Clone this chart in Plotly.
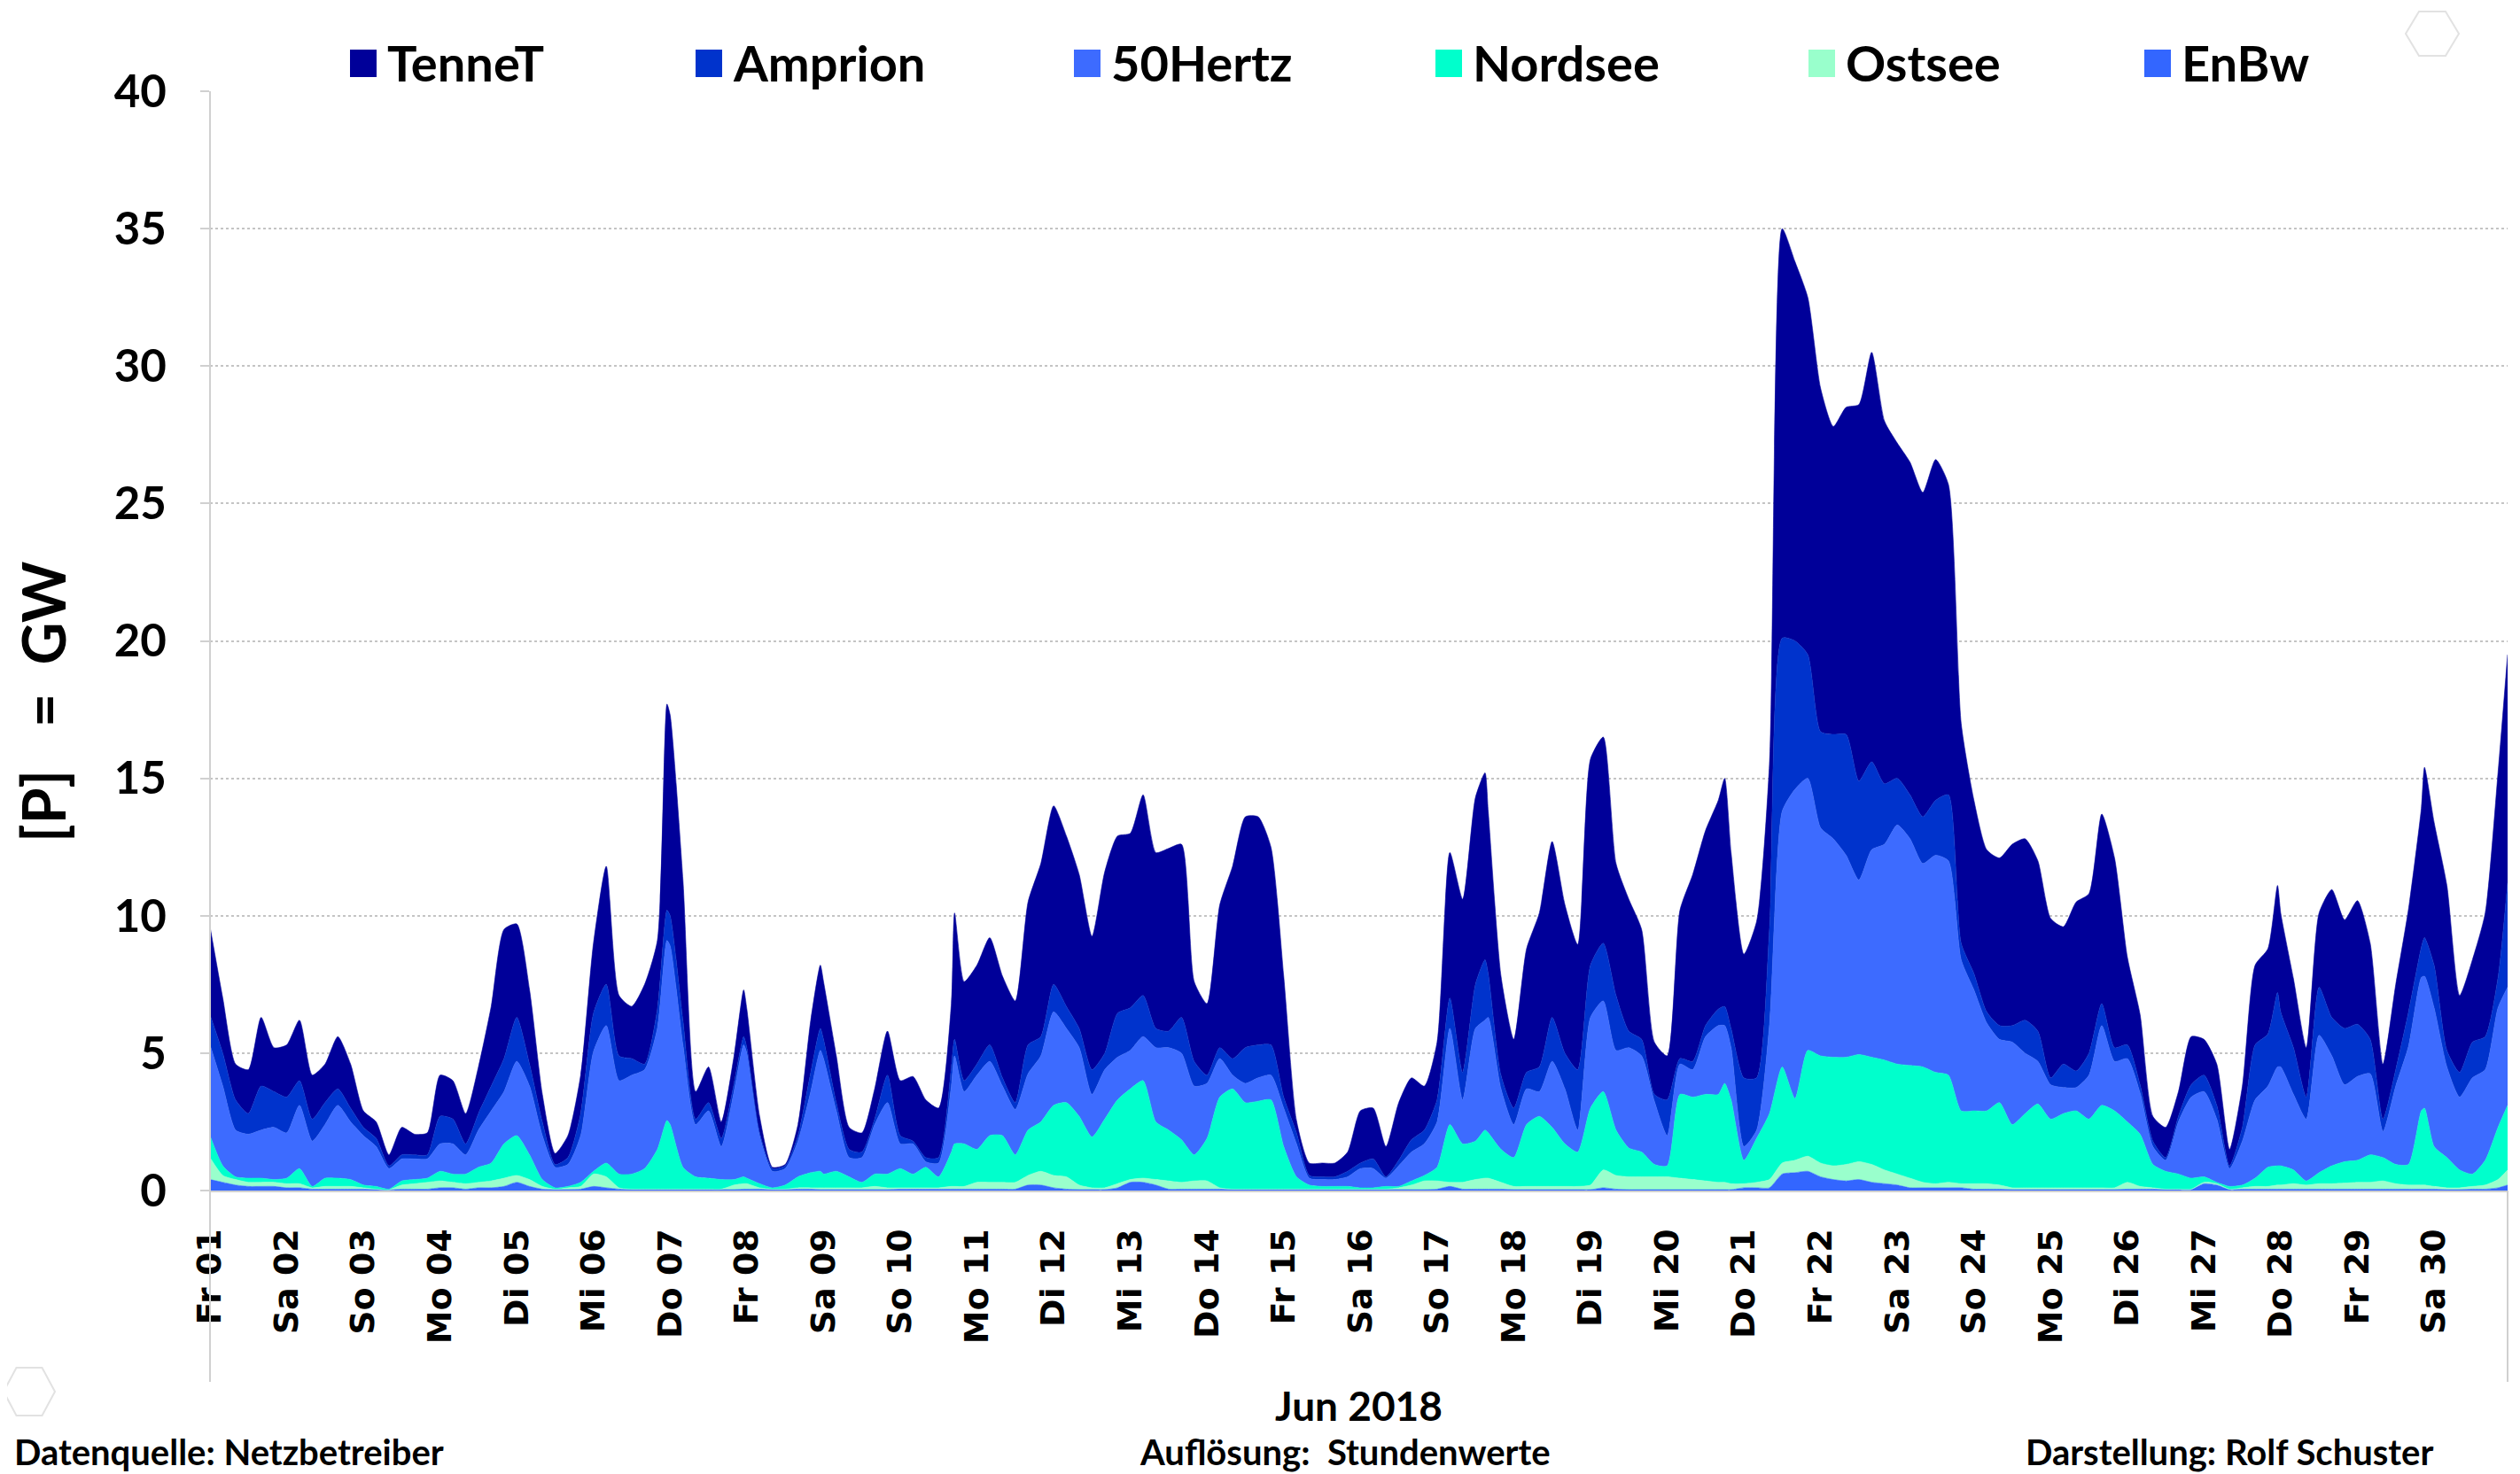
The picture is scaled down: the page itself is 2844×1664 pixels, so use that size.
import plotly.graph_objects as go
from datetime import datetime, timedelta

# ---------------- data (GW, June 2018) ----------------
START = datetime(2018, 6, 1)
# regular 4-hourly readings (hour offsets from 1 June 00:00) ...
HOURS = list(range(0, 720, 4)) + [719]
# ... plus readings taken at a few sharp peaks between the regular readings
EXTRA_HOURS = [143, 167, 191, 233, 399, 474, 647, 693]

TENNET = [
    3.2, 2.0, 1.3, 1.6, 2.5, 1.6,
    1.9, 2.2, 1.6, 1.4, 1.9, 1.6,
    0.6, 0.6, 0.4, 1.0, 0.75, 0.8,
    1.5, 1.4, 1.1, 1.7, 2.9, 4.7,
    3.4, 2.7, 1.0, 0.4, 0.8, 1.4,
    2.55, 4.3, 2.2, 1.9, 2.9, 2.5,
    7.3, 5.1, 1.0, 1.3, 0.6, 1.0,
    1.4, 0.6, 0.05, 0.05, 0.4, 1.9,
    2.1, 1.7, 0.8, 0.7, 1.1, 1.6,
    2.0, 2.35, 2.1, 1.8, 2.3, 3.6,
    3.6, 3.9, 3.7, 3.7, 5.2, 6.3,
    6.5, 6.2, 5.6, 4.85, 6.6, 6.45,
    6.35, 7.3, 6.4, 6.65, 6.3, 2.9,
    2.6, 5.2, 7.0, 8.4, 8.3, 7.2,
    4.4, 0.45, 0.45, 0.5, 0.5, 0.7,
    1.9, 1.85, 1.1, 2.1, 2.25, 1.6,
    2.1, 5.3, 6.3, 6.8, 5.9, 3.6,
    2.5, 4.5, 5.6, 6.4, 5.4, 4.55,
    7.5, 7.5, 4.8, 4.8, 4.0, 1.9,
    1.6, 5.4, 6.8, 7.1, 7.6, 6.4,
    4.5, 5.7, 6.0, 14.9, 13.8, 13.0,
    12.5, 11.2, 11.9, 13.7, 14.9, 13.2,
    12.2, 12.1, 11.8, 12.4, 11.3, 8.0,
    6.3, 5.9, 6.1, 6.6, 6.6, 6.2,
    5.8, 5.0, 6.15, 5.8, 6.9, 6.9,
    3.2, 2.55, 0.9, 1.1, 0.9, 1.75,
    1.3, 1.5, 0.6, 1.5, 2.9, 3.1,
    3.6, 2.5, 1.8, 2.7, 4.65, 3.95,
    4.5, 3.5, 2.0, 3.1, 3.75, 5.05,
    5.2, 6.0, 2.8, 3.0, 4.5, 7.45, 8.3,
]
TENNET_EXTRA = [7.5, 1.7, 2.3, 4.6, 6.8, 8.3, 3.9, 6.2]

AMPRION = [
    1.1, 1.2, 1.1, 0.75, 1.6, 1.3,
    1.3, 0.9, 0.8, 0.8, 0.6, 0.5,
    0.3, 0.3, 0.1, 0.15, 0.15, 0.15,
    1.0, 0.9, 0.4, 0.6, 0.9, 1.2,
    1.6, 0.8, 0.5, 0.1, 0.25, 0.8,
    1.4, 1.5, 0.9, 0.6, 0.2, 0.7,
    1.1, 0.9, 0.2, 0.3, 0.3, 0.3,
    0.2, 0.1, 0.1, 0.1, 0.2, 0.7,
    0.7, 0.3, 0.3, 0.2, 0.2, 1.0,
    0.3, 0.1, 0.15, 0.2, 0.7, 0.4,
    0.4, 0.6, 0.3, 0.25, 1.05, 0.7,
    1.0, 0.8, 0.7, 0.9, 0.6, 1.6,
    1.55, 1.5, 0.7, 0.6, 1.3, 0.9,
    0.3, 0.4, 0.6, 1.3, 1.2, 1.1,
    0.4, 0.4, 0.1, 0.1, 0.1, 0.2,
    0.2, 0.35, 0.05, 0.2, 0.45, 0.5,
    0.8, 1.1, 1.0, 1.6, 1.6, 0.5,
    0.6, 0.6, 0.9, 1.6, 1.3, 2.2,
    1.9, 2.1, 2.0, 0.6, 0.6, 0.25,
    1.3, 0.2, 0.3, 0.4, 0.6, 0.7,
    2.5, 1.9, 3.5, 6.3, 5.4, 4.5,
    3.5, 3.8, 4.4, 3.6, 3.2, 2.2,
    1.7, 1.6, 1.7, 2.0, 2.4, 0.6,
    0.6, 0.4, 0.5, 0.6, 1.2, 1.1,
    0.25, 0.85, 0.6, 0.8, 0.8, 0.5,
    0.5, 0.3, 0.2, 0.1, 0.2, 0.45,
    0.6, 0.5, 0.1, 0.5, 2.0, 1.9,
    2.0, 1.7, 0.8, 1.75, 1.4, 2.05,
    1.9, 1.25, 0.45, 0.6, 1.25, 1.1,
    1.55, 0.6, 0.9, 1.3, 1.2, 1.1, 3.8,
]
AMPRION_EXTRA = [1.1, 0.3, 0.8, 0.6, 2.2, 0.7, 2.7, 1.4]

HERTZ50 = [
    3.3, 2.9, 1.7, 1.6, 1.75, 1.9,
    1.65, 2.3, 1.65, 1.95, 2.65, 2.1,
    1.8, 1.45, 0.75, 0.8, 0.75, 0.7,
    1.0, 1.1, 0.7, 1.35, 1.9, 1.9,
    2.7, 2.5, 1.6, 0.75, 0.8, 1.7,
    4.35, 5.0, 3.4, 3.6, 3.6, 4.4,
    6.5, 4.45, 1.9, 2.45, 1.2, 3.2,
    4.55, 1.75, 0.6, 0.6, 1.3, 2.95,
    4.2, 2.2, 0.7, 0.9, 1.8, 2.6,
    0.9, 1.1, 0.2, 0.5, 2.4, 1.9,
    2.7, 2.7, 1.8, 1.65, 2.05, 2.4,
    3.4, 2.7, 2.5, 1.55, 1.8, 1.55,
    1.4, 1.6, 2.7, 3.0, 3.15, 2.5,
    2.0, 1.4, 0.5, 0.7, 0.85, 0.9,
    1.4, 1.2, 0.25, 0.25, 0.25, 0.35,
    0.7, 0.7, 0.3, 0.75, 1.05, 1.15,
    1.65, 3.5, 1.6, 4.1, 4.2, 2.2,
    1.2, 1.3, 0.9, 2.4, 2.0, 0.8,
    3.3, 3.3, 2.9, 3.65, 3.5, 2.3,
    1.1, 1.1, 1.0, 2.1, 2.5, 1.9,
    0.5, 0.3, 3.2, 9.3, 11.25, 9.9,
    8.3, 7.95, 7.35, 6.35, 7.55, 7.85,
    8.7, 8.25, 7.4, 7.9, 7.8, 5.5,
    4.4, 3.2, 2.3, 3.0, 2.2, 1.55,
    1.25, 0.95, 0.85, 1.6, 2.9, 1.8,
    2.3, 1.5, 0.65, 0.4, 1.9, 2.95,
    3.1, 2.3, 0.65, 1.6, 2.85, 2.95,
    3.6, 2.75, 2.25, 5.0, 4.0, 2.8,
    3.05, 2.95, 0.95, 2.85, 4.3, 4.85,
    5.05, 3.3, 2.65, 3.5, 3.3, 4.35, 4.3,
]
HERTZ50_EXTRA = [6.55, 4.8, 4.4, 3.2, 4.0, 2.1, 3.6, 4.8]

NORDSEE = [
    0.8, 0.35, 0.1, 0.15, 0.15, 0.1,
    0.2, 0.55, 0.05, 0.3, 0.3, 0.25,
    0.1, 0.1, 0.02, 0.15, 0.15, 0.15,
    0.35, 0.3, 0.35, 0.55, 0.65, 1.25,
    1.45, 0.9, 0.25, 0.05, 0.05, 0.15,
    0.1, 0.5, 0.5, 0.55, 0.75, 1.45,
    2.35, 0.8, 0.45, 0.4, 0.35, 0.2,
    0.2, 0.15, 0.05, 0.15, 0.4, 0.55,
    0.5, 0.6, 0.4, 0.2, 0.45, 0.5,
    0.7, 0.5, 0.75, 0.4, 1.25, 1.55,
    1.2, 1.7, 1.7, 1.0, 1.65, 1.8,
    2.55, 2.7, 2.5, 1.85, 2.5, 3.05,
    3.3, 3.55, 2.1, 1.85, 1.55, 0.95,
    1.55, 3.3, 3.65, 3.15, 3.2, 3.25,
    1.55, 0.45, 0.15, 0.1, 0.1, 0.1,
    0.05, 0.05, 0.1, 0.05, 0.15, 0.2,
    0.5, 2.1, 1.4, 1.4, 1.65, 1.2,
    1.05, 2.25, 2.55, 2.15, 1.55, 1.25,
    2.8, 2.85, 1.65, 1.05, 0.9, 0.45,
    0.4, 3.05, 3.0, 3.15, 3.2, 3.05,
    0.85, 1.6, 2.4, 3.5, 2.25, 3.85,
    3.9, 3.95, 3.9, 3.9, 3.9, 4.0,
    4.0, 4.1, 4.2, 4.05, 3.9, 2.65,
    2.65, 2.65, 3.0, 2.3, 2.7, 3.05,
    2.5, 2.7, 2.8, 2.5, 3.0, 2.8,
    2.2, 1.9, 0.85, 0.65, 0.55, 0.4,
    0.2, 0.05, 0.1, 0.1, 0.3, 0.7,
    0.7, 0.5, 0.15, 0.4, 0.65, 0.78,
    0.8, 1.0, 0.85, 0.7, 0.75, 2.7,
    1.45, 1.1, 0.65, 0.45, 0.9, 1.9, 2.35,
]
NORDSEE_EXTRA = [2.5, 0.25, 0.6, 1.55, 1.75, 3.6, 0.7, 2.8]

OSTSEE = [
    0.8, 0.25, 0.2, 0.15, 0.15, 0.15,
    0.15, 0.15, 0.05, 0.1, 0.1, 0.1,
    0.05, 0.02, 0.01, 0.15, 0.2, 0.25,
    0.25, 0.2, 0.2, 0.2, 0.25, 0.3,
    0.25, 0.25, 0.1, 0.02, 0.07, 0.1,
    0.45, 0.4, 0.05, 0.02, 0.02, 0.02,
    0.02, 0.02, 0.02, 0.02, 0.02, 0.17,
    0.2, 0.05, 0.02, 0.02, 0.05, 0.05,
    0.07, 0.07, 0.07, 0.07, 0.12, 0.07,
    0.05, 0.05, 0.05, 0.05, 0.1, 0.1,
    0.25, 0.25, 0.25, 0.25, 0.35, 0.5,
    0.45, 0.45, 0.17, 0.07, 0.07, 0.15,
    0.1, 0.15, 0.2, 0.3, 0.25, 0.3,
    0.3, 0.05, 0.02, 0.02, 0.02, 0.02,
    0.02, 0.02, 0.02, 0.02, 0.02, 0.02,
    0.02, 0.02, 0.02, 0.07, 0.17, 0.32,
    0.3, 0.15, 0.25, 0.35, 0.4, 0.25,
    0.12, 0.12, 0.12, 0.12, 0.12, 0.12,
    0.17, 0.65, 0.5, 0.47, 0.47, 0.47,
    0.47, 0.42, 0.37, 0.32, 0.27, 0.22,
    0.15, 0.2, 0.3, 0.4, 0.45, 0.55,
    0.5, 0.5, 0.6, 0.65, 0.65, 0.5,
    0.4, 0.35, 0.2, 0.15, 0.2, 0.15,
    0.2, 0.2, 0.15, 0.07, 0.07, 0.07,
    0.07, 0.07, 0.07, 0.07, 0.07, 0.07,
    0.25, 0.1, 0.05, 0.02, 0.02, 0.02,
    0.05, 0.05, 0.02, 0.05, 0.1, 0.1,
    0.15, 0.2, 0.15, 0.2, 0.2, 0.22,
    0.25, 0.25, 0.3, 0.2, 0.15, 0.15,
    0.1, 0.07, 0.07, 0.1, 0.15, 0.3, 0.55,
]
OSTSEE_EXTRA = [0.02, 0.2, 0.07, 0.1, 0.4, 0.27, 0.15, 0.15]

ENBW = [
    0.4, 0.3, 0.2, 0.15, 0.15, 0.15,
    0.1, 0.1, 0.05, 0.05, 0.05, 0.05,
    0.05, 0.03, 0.02, 0.05, 0.05, 0.05,
    0.1, 0.1, 0.05, 0.1, 0.1, 0.15,
    0.3, 0.15, 0.05, 0.03, 0.03, 0.05,
    0.15, 0.1, 0.05, 0.03, 0.03, 0.03,
    0.03, 0.03, 0.03, 0.03, 0.03, 0.03,
    0.05, 0.05, 0.03, 0.03, 0.05, 0.05,
    0.03, 0.03, 0.03, 0.03, 0.03, 0.03,
    0.05, 0.05, 0.05, 0.05, 0.05, 0.05,
    0.05, 0.05, 0.05, 0.05, 0.2, 0.2,
    0.1, 0.05, 0.03, 0.03, 0.03, 0.1,
    0.3, 0.3, 0.2, 0.05, 0.05, 0.05,
    0.05, 0.05, 0.03, 0.03, 0.03, 0.03,
    0.03, 0.03, 0.03, 0.03, 0.03, 0.03,
    0.03, 0.03, 0.03, 0.03, 0.03, 0.03,
    0.05, 0.15, 0.05, 0.05, 0.05, 0.05,
    0.03, 0.03, 0.03, 0.03, 0.03, 0.03,
    0.03, 0.1, 0.05, 0.03, 0.03, 0.03,
    0.03, 0.03, 0.03, 0.03, 0.03, 0.03,
    0.1, 0.1, 0.1, 0.6, 0.65, 0.7,
    0.5, 0.4, 0.35, 0.4, 0.3, 0.25,
    0.2, 0.1, 0.1, 0.1, 0.1, 0.1,
    0.05, 0.05, 0.05, 0.03, 0.03, 0.03,
    0.03, 0.03, 0.03, 0.03, 0.03, 0.03,
    0.05, 0.05, 0.05, 0.03, 0.03, 0.03,
    0.25, 0.2, 0.03, 0.05, 0.05, 0.05,
    0.05, 0.05, 0.05, 0.05, 0.05, 0.05,
    0.05, 0.05, 0.05, 0.05, 0.05, 0.05,
    0.05, 0.03, 0.03, 0.05, 0.05, 0.1, 0.2,
]
ENBW_EXTRA = [0.03, 0.05, 0.03, 0.05, 0.05, 0.03, 0.05, 0.05]

TICK_LABELS = [
    "Fr 01", "Sa 02", "So 03", "Mo 04", "Di 05", "Mi 06", "Do 07", "Fr 08",
    "Sa 09", "So 10", "Mo 11", "Di 12", "Mi 13", "Do 14", "Fr 15", "Sa 16",
    "So 17", "Mo 18", "Di 19", "Mi 20", "Do 21", "Fr 22", "Sa 23", "So 24",
    "Mo 25", "Di 26", "Mi 27", "Do 28", "Fr 29", "Sa 30",
]
Y_TICKS = [0, 5, 10, 15, 20, 25, 30, 35, 40]

SERIES_NAMES = ["TenneT", "Amprion", "50Hertz", "Nordsee", "Ostsee", "EnBw"]
COLORS = {
    "TenneT": "#000099",
    "Amprion": "#0033CC",
    "50Hertz": "#3D6BFF",
    "Nordsee": "#00FFCC",
    "Ostsee": "#99FFCC",
    "EnBw": "#3366FF",
}

# ---------------- merge regular and peak readings in time order ----------------
all_hours = HOURS + EXTRA_HOURS
order = sorted(range(len(all_hours)), key=all_hours.__getitem__)
x = [START + timedelta(hours=all_hours[i]) for i in order]
series = {}
for name, reg, extra in [("TenneT", TENNET, TENNET_EXTRA), ("Amprion", AMPRION, AMPRION_EXTRA),
                         ("50Hertz", HERTZ50, HERTZ50_EXTRA), ("Nordsee", NORDSEE, NORDSEE_EXTRA),
                         ("Ostsee", OSTSEE, OSTSEE_EXTRA), ("EnBw", ENBW, ENBW_EXTRA)]:
    merged = reg + extra
    series[name] = [merged[i] for i in order]

# ---------------- figure ----------------
# The page body keeps a default 8px margin, so the figure is drawn 8px
# right/down of the window origin; all pixel targets below are window pixels.
PAGE_OFF = 8
W, H = 2844, 1664
PLOT_LEFT, PLOT_RIGHT, PLOT_TOP, PLOT_BOTTOM = 237, 2830, 103, 1344   # window px
L = PLOT_LEFT - PAGE_OFF
T = PLOT_TOP - PAGE_OFF
R = W - (PLOT_RIGHT - PAGE_OFF)
B = H - (PLOT_BOTTOM - PAGE_OFF)
PW, PH = PLOT_RIGHT - PLOT_LEFT, PLOT_BOTTOM - PLOT_TOP


def px_x(p):
    return (p - PLOT_LEFT) / PW


def px_y(p):
    return (PLOT_BOTTOM - p) / PH


tickvals = [START + timedelta(days=i) for i in range(len(TICK_LABELS))]

fig = go.Figure()
for name in reversed(SERIES_NAMES):          # bottom of the stack first
    fig.add_trace(go.Scatter(
        x=x, y=series[name], name=name, stackgroup="wind", mode="lines",
        line=dict(width=0.6, color=COLORS[name], shape="spline", smoothing=0.6),
        fillcolor=COLORS[name], showlegend=False,
        hovertemplate="%{y:.2f} GW<extra>" + name + "</extra>",
    ))

bold = "bold"
fig.update_layout(
    width=W, height=H,
    margin=dict(l=L, r=R, t=T, b=B, autoexpand=False),
    paper_bgcolor="white", plot_bgcolor="white",
    showlegend=False,
    xaxis=dict(
        type="date", range=[START, START + timedelta(hours=719)],
        tickmode="array", tickvals=tickvals, ticktext=TICK_LABELS,
        tickangle=-90, ticks="", showgrid=False,
        tickfont=dict(family="DejaVu Sans", size=38, color="black", weight=bold),
        ticklabelstandoff=26,
        showline=True, linecolor="#d0d0d0", linewidth=2,
        title=dict(text="Jun 2018", standoff=56,
                   font=dict(family="Lato", size=46, color="black", weight=bold)),
        automargin=False, zeroline=False,
    ),
    yaxis=dict(
        range=[0, 40], tickmode="array", tickvals=Y_TICKS,
        ticks="outside", ticklen=10, tickcolor="#d0d0d0", tickwidth=2,
        ticklabelstandoff=28,
        tickfont=dict(family="Lato", size=51, color="black", weight=bold),
        showgrid=True, gridcolor="#c4c4c4", gridwidth=1.5, griddash="dot",
        showline=False, zeroline=False, automargin=False,
    ),
)

# legend drawn as coloured squares + real text labels
LEGEND_MARKER_X = [395, 785, 1212, 1620, 2041, 2420]
for name, mx in zip(SERIES_NAMES, LEGEND_MARKER_X):
    fig.add_shape(type="rect", xref="paper", yref="paper",
                  x0=px_x(mx), x1=px_x(mx + 30), y0=px_y(56), y1=px_y(87),
                  line=dict(width=0), fillcolor=COLORS[name])
    fig.add_annotation(text=name, xref="paper", yref="paper",
                       x=px_x(mx + 40), y=px_y(71), xanchor="left", yanchor="middle",
                       showarrow=False,
                       font=dict(family="Lato", size=56, color="black", weight=bold))

# y-axis title
fig.add_annotation(text="[P]\u00a0\u00a0\u00a0=\u00a0\u00a0GW", xref="paper", yref="paper",
                   x=px_x(48), y=px_y(793), xanchor="center", yanchor="middle",
                   textangle=-90, showarrow=False,
                   font=dict(family="Lato", size=66, color="black", weight=bold))

# axis border lines extending through the label area
fig.add_shape(type="line", xref="paper", yref="paper",
              x0=0, x1=0, y0=1, y1=px_y(1560), line=dict(color="#d0d0d0", width=2))
fig.add_shape(type="line", xref="paper", yref="paper",
              x0=1, x1=1, y0=0, y1=px_y(1560), line=dict(color="#d0d0d0", width=2))


def hexagon(cx, cy, w, h):
    pts = [(cx - w / 2, cy), (cx - w / 4, cy - h / 2), (cx + w / 4, cy - h / 2),
           (cx + w / 2, cy), (cx + w / 4, cy + h / 2), (cx - w / 4, cy + h / 2)]
    return "M " + " L ".join(f"{px_x(a):.5f},{px_y(b):.5f}" for a, b in pts) + " Z"


for cx, cy, w, h in [(2745, 38, 60, 50), (33, 1571, 58, 54)]:
    fig.add_shape(type="path", xref="paper", yref="paper", path=hexagon(cx, cy, w, h),
                  line=dict(color="#e2e2e2", width=2), fillcolor="rgba(0,0,0,0)")

foot_font = dict(family="Lato", size=40, color="black", weight=bold)
fig.add_annotation(text="Datenquelle: Netzbetreiber", xref="paper", yref="paper",
                   x=px_x(14), y=px_y(1639), xanchor="left", yanchor="middle",
                   showarrow=False, font=foot_font)
fig.add_annotation(text="Auflösung:\u00a0\u00a0Stundenwerte", xref="paper", yref="paper",
                   x=px_x(1518), y=px_y(1639), xanchor="center", yanchor="middle",
                   showarrow=False, font=foot_font)
fig.add_annotation(text="Darstellung: Rolf Schuster", xref="paper", yref="paper",
                   x=px_x(2748), y=px_y(1639), xanchor="right", yanchor="middle",
                   showarrow=False, font=foot_font)

fig.write_html("out.html")
